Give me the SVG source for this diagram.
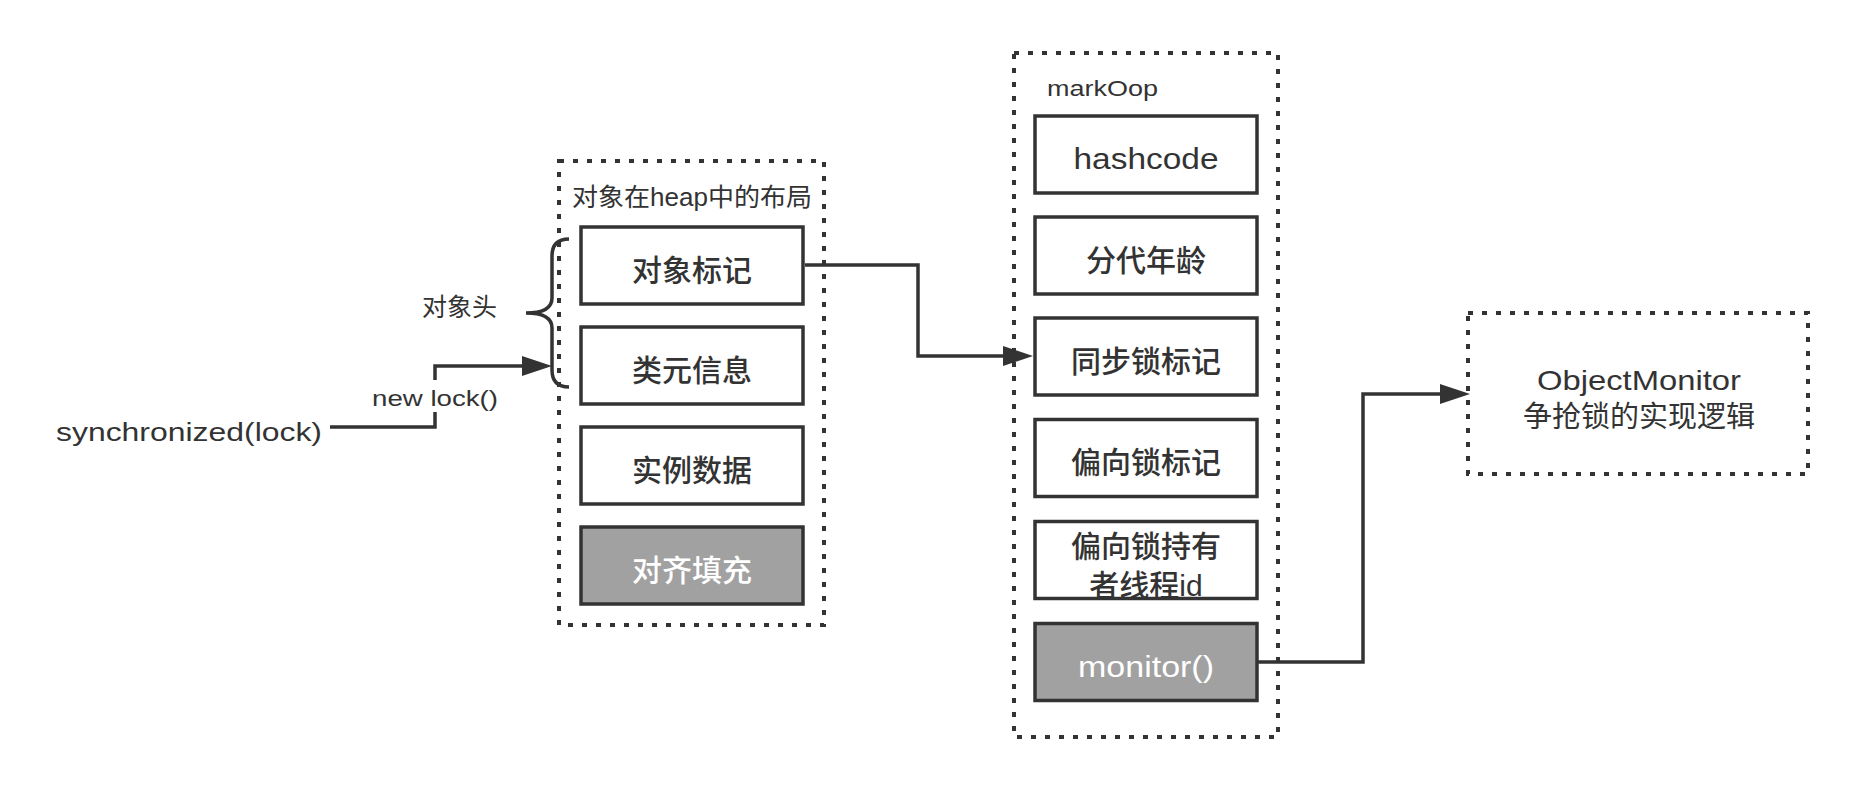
<svg xmlns="http://www.w3.org/2000/svg" width="1858" height="788" viewBox="0 0 1858 788">
<style>
text{font-family:"Liberation Sans","Noto Sans CJK SC",sans-serif;fill:#333333;dominant-baseline:central}
.c{text-anchor:middle}
.lbl{font-size:30px;font-weight:500}
.w{fill:#ffffff}
.box{fill:#ffffff;stroke:#333333;stroke-width:3.5}
.gray{fill:#a1a1a1;stroke:#333333;stroke-width:3.5}
.dot{fill:none;stroke:#333333;stroke-width:4;stroke-dasharray:5 9}
.edge{fill:none;stroke:#333333;stroke-width:3.5;stroke-linejoin:miter}
</style>
<defs>
<marker id="arr" viewBox="0 0 30 20" refX="10" refY="10" markerWidth="30" markerHeight="20" markerUnits="userSpaceOnUse" orient="auto">
<path d="M0,0 L30,10 L0,20 z" fill="#333333"/>
</marker>
</defs>
<rect width="1858" height="788" fill="#ffffff"/>

<g id="heap-layout">
<rect class="dot" x="559" y="161" width="265" height="464"/>
<text x="572" y="197" font-size="25" textLength="240" lengthAdjust="spacingAndGlyphs">对象在heap中的布局</text>
</g>
<g id="mark-word">
<rect class="box" x="581" y="227" width="222" height="77"/>
<text class="c lbl" x="692" y="270.5">对象标记</text>
</g>
<g id="class-meta">
<rect class="box" x="581" y="327" width="222" height="77"/>
<text class="c lbl" x="692" y="370.5">类元信息</text>
</g>
<g id="instance-data">
<rect class="box" x="581" y="427" width="222" height="77"/>
<text class="c lbl" x="692" y="470.5">实例数据</text>
</g>
<g id="padding">
<rect class="gray" x="581" y="527" width="222" height="77"/>
<text class="c lbl w" x="692" y="570.5">对齐填充</text>
</g>

<g id="object-header">
<path class="edge" d="M569,239 Q552,239 552,256 V298 Q552,313 526,313 Q552,313 552,328 V370 Q552,387 569,387"/>
<text x="422" y="307" font-size="25">对象头</text>
</g>

<g id="sync">
<text x="56" y="432" font-size="26" textLength="266" lengthAdjust="spacingAndGlyphs">synchronized(lock)</text>
</g>

<g id="markoop">
<rect class="dot" x="1014" y="53" width="264" height="684"/>
<text x="1047" y="88" font-size="22" textLength="111" lengthAdjust="spacingAndGlyphs">markOop</text>
</g>
<g id="hashcode">
<rect class="box" x="1035" y="116" width="222" height="77"/>
<text class="c lbl" x="1146" y="158.5" textLength="145" lengthAdjust="spacingAndGlyphs">hashcode</text>
</g>
<g id="age">
<rect class="box" x="1035" y="217" width="222" height="77"/>
<text class="c lbl" x="1146" y="260.5">分代年龄</text>
</g>
<g id="sync-flag">
<rect class="box" x="1035" y="318" width="222" height="77"/>
<text class="c lbl" x="1146" y="361.5">同步锁标记</text>
</g>
<g id="biased-flag">
<rect class="box" x="1035" y="419.5" width="222" height="77"/>
<text class="c lbl" x="1146" y="462">偏向锁标记</text>
</g>
<g id="biased-owner">
<rect class="box" x="1035" y="521.5" width="222" height="77"/>
<text class="c lbl" x="1146" y="546">偏向锁持有</text>
<text class="c lbl" x="1146" y="585">者线程id</text>
</g>
<g id="monitor">
<rect class="gray" x="1035" y="623.5" width="222" height="77"/>
<text class="c lbl w" x="1146" y="666" textLength="136" lengthAdjust="spacingAndGlyphs">monitor()</text>
</g>

<g id="object-monitor">
<rect class="dot" x="1468" y="313" width="340" height="161"/>
<text class="c" x="1639" y="380" font-size="28" textLength="204" lengthAdjust="spacingAndGlyphs">ObjectMonitor</text>
<text class="c" x="1639" y="417" font-size="29">争抢锁的实现逻辑</text>
</g>

<g id="connectors">
<path class="edge" d="M330,427 H435 V366 H532" marker-end="url(#arr)"/>
<rect x="370" y="380" width="130" height="32" fill="#ffffff"/>
<text class="c" x="435" y="398" font-size="22" textLength="126" lengthAdjust="spacingAndGlyphs">new lock()</text>
<path class="edge" d="M805,265 H918 V356 H1013" marker-end="url(#arr)"/>
<path class="edge" d="M1258,662 H1363 V394 H1450" marker-end="url(#arr)"/>
</g>
</svg>
